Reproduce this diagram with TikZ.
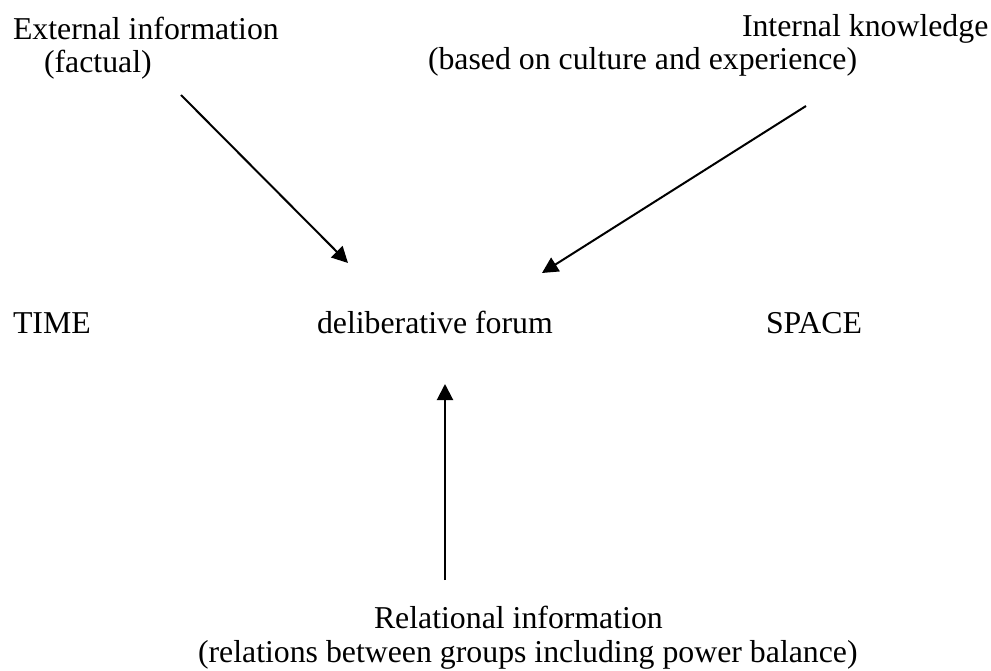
\documentclass[tikz,border=0pt]{standalone}
\usepackage{fontspec}
\setmainfont{Liberation Serif}
\usetikzlibrary{arrows.meta}
\tikzset{
  lbl/.style={inner sep=0pt, outer sep=0pt, anchor=base west, font=\fontsize{31.8}{36}\selectfont},
  conn/.style={line width=2pt, -{Triangle[length=16pt,width=16pt]}}
}
\begin{document}
\begin{tikzpicture}[x=1pt,y=-1pt]
\useasboundingbox[fill=white] (0,0) rectangle (991,671);
% texts
\node[lbl] (ext) at (13,40) {External information};
\node[lbl] (extsub) at (44,73) {(factual)};
\node[lbl] (int) at (742,37) {Internal knowledge};
\node[lbl] (intsub) at (428,70) {(based on culture and experience)};
\node[lbl] (time) at (13,333) {TIME};
\node[lbl] (forum) at (317,333) {deliberative forum};
\node[lbl] (space) at (766,333) {SPACE};
\node[lbl] (rel) at (374,628) {Relational information};
\node[lbl] (relsub) at (198,662) {(relations between groups including power balance)};
% connector ends
\coordinate (a1s) at (181,95);
\coordinate (a1e) at (348,263);
\coordinate (a2s) at (806,106);
\coordinate (a2e) at (542,273);
\coordinate (a3s) at (445,580);
\coordinate (a3e) at (445,384);
\draw[conn] (a1s) -- (a1e);
\draw[conn] (a2s) -- (a2e);
\draw[conn] (a3s) -- (a3e);
\end{tikzpicture}
\end{document}
